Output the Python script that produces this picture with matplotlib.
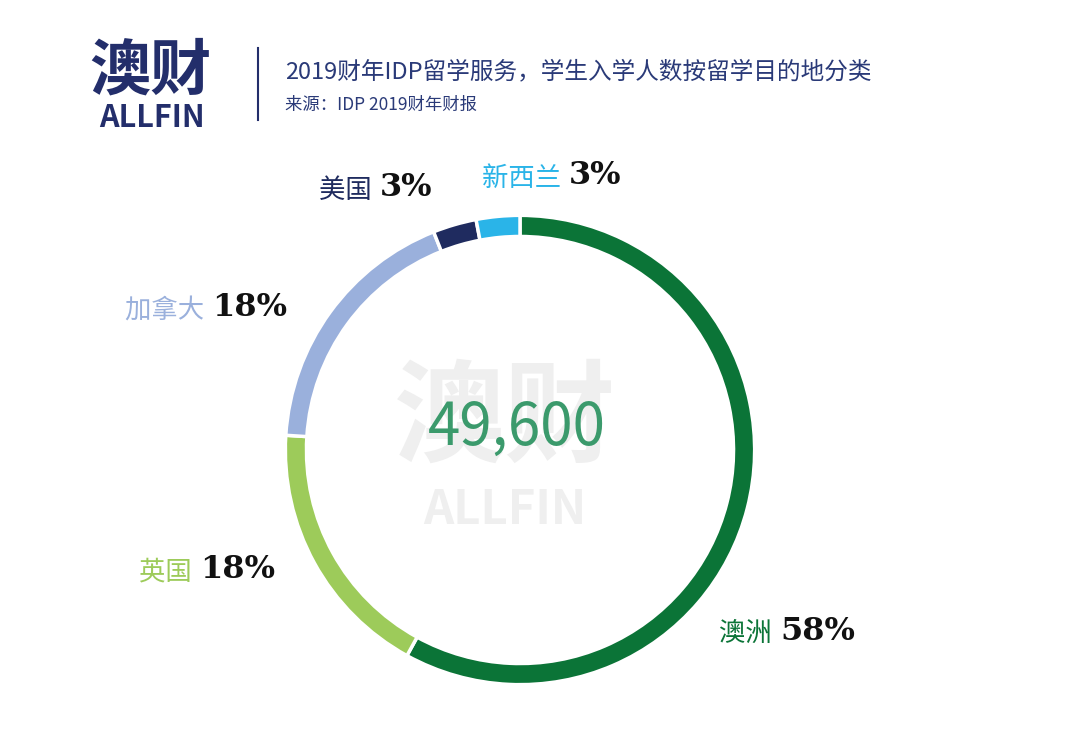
import matplotlib.pyplot as plt

plt.rcParams['font.family'] = ['Noto Sans CJK SC', 'DejaVu Sans']

regions = ['澳洲', '英国', '加拿大', '美国', '新西兰']
shares = [58, 18, 18, 3, 3]
colors = ['#0b7437', '#9dcb5a', '#9ab0dc', '#1f2b5f', '#2ab4e8']
total_label = '49,600'
title = '2019财年IDP留学服务，学生入学人数按留学目的地分类'
source = '来源：IDP 2019财年财报'

W, H = 1067, 733
fig = plt.figure(figsize=(W / 100, H / 100), dpi=100)

cx, cy, r = 520, 450, 237
ax = fig.add_axes([(cx - r) / W, (H - cy - r) / H, 2 * r / W, 2 * r / H])
ax.pie(shares, colors=colors, startangle=90, counterclock=False, radius=1,
       wedgeprops=dict(width=0.09, edgecolor='white', linewidth=2.5))
ax.set_xlim(-1.01, 1.01)
ax.set_ylim(-1.01, 1.01)
ax.set_aspect('equal')

def px(x, y):
    return x / W, 1 - y / H

# watermark
fig.text(*px(505, 420), '澳财', fontsize=80, fontweight='bold', color='#efefef',
         ha='center', va='center', zorder=0)
fig.text(*px(505, 510), 'ALLFIN', fontsize=34, fontweight='bold', color='#efefef',
         ha='center', va='center', zorder=0)
fig.text(*px(517, 428), total_label, fontsize=42, color='#3b9a6c', ha='center', va='center')

# header
fig.text(*px(150, 72), '澳财', fontsize=44, fontweight='bold', color='#232e6b', ha='center', va='center')
fig.text(*px(152, 118), 'ALLFIN', fontsize=22, fontweight='bold', color='#232e6b', ha='center', va='center')
fig.lines.append(plt.Line2D([258 / W, 258 / W], [1 - 48 / H, 1 - 120 / H],
                            transform=fig.transFigure, color='#232e6b', lw=1.5))
fig.text(*px(285, 72), title, fontsize=17, color='#2a3a78', va='center')
fig.text(*px(285, 105), source, fontsize=12.5, color='#2a3a78', va='center')

# labels: (x, y) of right edge of name
label_pos = [(778, 633), (198, 572), (210, 310), (378, 190), (567, 178)]
for name, s, c, (x, y) in zip(regions, shares, colors, label_pos):
    fig.text(*px(x, y), name + ' ', fontsize=19, color=c, ha='right', va='center')
    fig.text(*px(x + 2, y - 2), f'{s}%', fontsize=23, fontweight='bold', color='#111111',
             family='DejaVu Serif', ha='left', va='center')

fig.savefig('out.png', dpi=100, facecolor='white')
